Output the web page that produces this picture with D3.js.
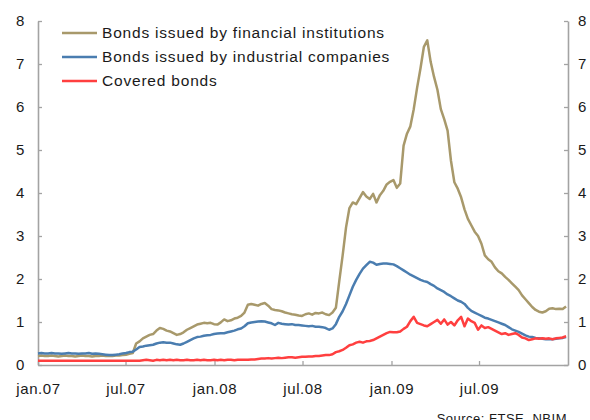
<!DOCTYPE html>
<html>
<head>
<meta charset="utf-8">
<script src="https://cdn.jsdelivr.net/npm/d3@7"></script>
<style>
  html, body { margin: 0; padding: 0; background: #ffffff; }
  svg { display: block; }
  text { font-family: "Liberation Sans", Arial, sans-serif; fill: #1a1a1a; }
</style>
</head>
<body>
<script>
// Weekly spread observations, starting on the first Monday of 2007
const startDate = new Date(2007, 0, 1);

const seriesNames = [
  "Bonds issued by financial institutions",
  "Bonds issued by industrial companies",
  "Covered bonds"
];

const financial = [
  0.21,0.22,0.21,0.21,0.22,0.21,0.20,0.21,0.22,0.21,0.21,0.20,0.21,0.22,0.21,0.21,0.20,0.21,0.21,0.22,0.21,
  0.21,0.21,0.22,0.22,0.23,0.24,0.26,0.28,0.50,0.55,0.62,0.66,0.70,0.72,0.80,0.86,0.84,0.80,0.78,
  0.74,0.70,0.72,0.76,0.82,0.86,0.90,0.94,0.96,0.98,0.97,0.98,0.95,0.94,0.99,1.06,1.02,1.04,1.08,1.10,
  1.14,1.22,1.40,1.42,1.40,1.38,1.42,1.44,1.38,1.30,1.28,1.27,1.25,1.22,1.20,1.18,1.17,1.15,1.14,1.18,
  1.20,1.17,1.21,1.20,1.22,1.18,1.16,1.22,1.33,1.95,2.55,3.20,3.65,3.78,3.74,3.88,4.02,3.92,3.86,3.98,
  3.78,3.95,4.05,4.20,4.26,4.30,4.12,4.22,5.10,5.38,5.55,5.95,6.45,6.90,7.40,7.55,7.05,6.70,6.40,5.95,
  5.72,5.45,4.75,4.25,4.10,3.90,3.62,3.40,3.25,3.10,3.00,2.82,2.55,2.46,2.40,2.27,2.18,2.13,2.05,1.98,
  1.90,1.82,1.74,1.62,1.53,1.44,1.35,1.28,1.24,1.22,1.25,1.31,1.32,1.30,1.31,1.30,1.36
];

const industrial = [
  0.27,0.28,0.27,0.27,0.28,0.27,0.27,0.26,0.27,0.28,0.27,0.27,0.26,0.27,0.27,0.28,0.26,0.27,0.26,0.25,0.24,
  0.23,0.23,0.24,0.25,0.27,0.28,0.30,0.31,0.36,0.42,0.43,0.45,0.46,0.47,0.50,0.52,0.53,0.52,0.52,
  0.50,0.48,0.47,0.50,0.54,0.58,0.62,0.65,0.66,0.68,0.69,0.70,0.72,0.73,0.74,0.74,0.76,0.78,0.80,0.83,
  0.85,0.90,0.97,0.99,1.00,1.01,1.02,1.01,0.99,0.97,0.93,0.98,0.96,0.95,0.94,0.95,0.93,0.93,0.92,0.91,
  0.90,0.91,0.89,0.89,0.88,0.86,0.82,0.85,0.95,1.12,1.25,1.42,1.62,1.82,1.98,2.12,2.24,2.32,2.40,2.38,
  2.33,2.35,2.36,2.36,2.35,2.34,2.30,2.25,2.20,2.15,2.10,2.06,2.02,1.98,1.95,1.93,1.88,1.84,1.78,1.74,
  1.70,1.64,1.60,1.55,1.50,1.47,1.42,1.33,1.26,1.22,1.18,1.14,1.10,1.08,1.05,1.02,0.99,0.96,0.93,0.88,
  0.83,0.80,0.77,0.73,0.69,0.66,0.65,0.63,0.62,0.61,0.60,0.60,0.60,0.61,0.62,0.63,0.65
];

const covered = [
  0.10,0.10,0.10,0.10,0.10,0.10,0.10,0.10,0.10,0.10,0.10,0.10,0.10,0.10,0.10,0.10,0.10,0.10,0.10,0.10,0.10,
  0.10,0.10,0.10,0.10,0.10,0.10,0.10,0.10,0.10,0.10,0.11,0.12,0.11,0.10,0.12,0.11,0.12,0.11,0.12,
  0.11,0.12,0.11,0.11,0.12,0.11,0.11,0.12,0.11,0.12,0.11,0.11,0.12,0.11,0.12,0.11,0.12,0.12,0.11,0.12,
  0.12,0.12,0.12,0.13,0.13,0.14,0.15,0.15,0.16,0.15,0.16,0.17,0.16,0.17,0.18,0.18,0.17,0.18,0.19,0.19,
  0.20,0.20,0.21,0.21,0.22,0.23,0.23,0.25,0.30,0.32,0.35,0.40,0.46,0.48,0.52,0.54,0.52,0.55,0.56,0.58,
  0.62,0.66,0.70,0.74,0.77,0.76,0.76,0.78,0.84,0.89,1.02,1.12,0.98,0.95,0.92,0.90,0.95,1.00,1.05,0.96,
  1.06,0.94,1.00,0.92,1.04,1.12,0.90,1.08,1.02,0.98,0.82,0.92,0.86,0.88,0.84,0.80,0.76,0.72,0.74,0.70,
  0.72,0.74,0.70,0.64,0.62,0.58,0.60,0.62,0.61,0.62,0.61,0.62,0.60,0.62,0.63,0.64,0.67
];

const yTicks = [0, 1, 2, 3, 4, 5, 6, 7, 8];
const xTickDates = [
  new Date(2007, 0, 1), new Date(2007, 6, 1),
  new Date(2008, 0, 1), new Date(2008, 6, 1),
  new Date(2009, 0, 1), new Date(2009, 6, 1)
];
const sourceNote = "Source: FTSE, NBIM";

const colors = ["#a8996b", "#4a7db0", "#ff3f3f"];

const W = 590, H = 420;
const plotLeft = 38, plotRight = 568, plotTop = 21, plotBottom = 365;

const svg = d3.select("body").append("svg")
  .attr("width", W).attr("height", H);

const x = d3.scaleTime()
  .domain([startDate, new Date(2010, 0, 1)])
  .range([plotLeft, plotRight]);

const y = d3.scaleLinear()
  .domain([0, 8])
  .range([plotBottom, plotTop]);

const dates = financial.map((_, i) => d3.timeDay.offset(startDate, 7 * i));
const series = [financial, industrial, covered];

const monthFmt = d3.timeFormat("%b");
const yearFmt = d3.timeFormat("%y");
const fmtX = d => monthFmt(d).toLowerCase() + "." + yearFmt(d);

const axisColor = "#a3a3a3";

function styleAxis(g) {
  g.selectAll(".domain").attr("stroke", axisColor).attr("stroke-width", 1.6);
  g.selectAll(".tick line").attr("stroke", axisColor).attr("stroke-width", 1.3);
  g.selectAll(".tick text")
    .attr("fill", "#1a1a1a")
    .style("font-family", "'Liberation Sans', Arial, sans-serif")
    .style("font-size", "15px")
    .style("letter-spacing", "0.6px");
}

// Left axis
svg.append("g")
  .attr("transform", `translate(${plotLeft},0)`)
  .call(d3.axisLeft(y).tickValues(yTicks).tickFormat(d3.format("d"))
    .tickSize(-4).tickSizeOuter(0).tickPadding(13))
  .call(styleAxis);

// Right axis
svg.append("g")
  .attr("transform", `translate(${plotRight},0)`)
  .call(d3.axisRight(y).tickValues(yTicks).tickFormat(d3.format("d"))
    .tickSize(-4).tickSizeOuter(0).tickPadding(10))
  .call(styleAxis);

// Bottom axis
svg.append("g")
  .attr("transform", `translate(0,${plotBottom})`)
  .call(d3.axisBottom(x).tickValues(xTickDates).tickFormat(fmtX)
    .tickSize(-4).tickSizeOuter(0).tickPadding(18))
  .call(styleAxis);

// Series lines
const line = d3.line()
  .x((d, i) => x(dates[i]))
  .y(d => y(d));

series.forEach((s, k) => {
  svg.append("path")
    .datum(s)
    .attr("fill", "none")
    .attr("stroke", colors[k])
    .attr("stroke-width", 2.5)
    .attr("stroke-linejoin", "round")
    .attr("d", line);
});

// Legend
const legend = svg.append("g");
seriesNames.forEach((name, k) => {
  const ly = 33 + k * 24;
  legend.append("line")
    .attr("x1", 62).attr("x2", 97)
    .attr("y1", ly).attr("y2", ly)
    .attr("stroke", colors[k]).attr("stroke-width", 2.5);
  legend.append("text")
    .attr("x", 102).attr("y", ly)
    .attr("dy", "0.35em")
    .style("font-size", "15.5px")
    .style("letter-spacing", "0.8px")
    .text(name);
});

// Source note
svg.append("text")
  .attr("x", 567).attr("y", 423)
  .attr("text-anchor", "end")
  .style("font-size", "13px")
  .style("letter-spacing", "0.5px")
  .text(sourceNote);
</script>
</body>
</html>
